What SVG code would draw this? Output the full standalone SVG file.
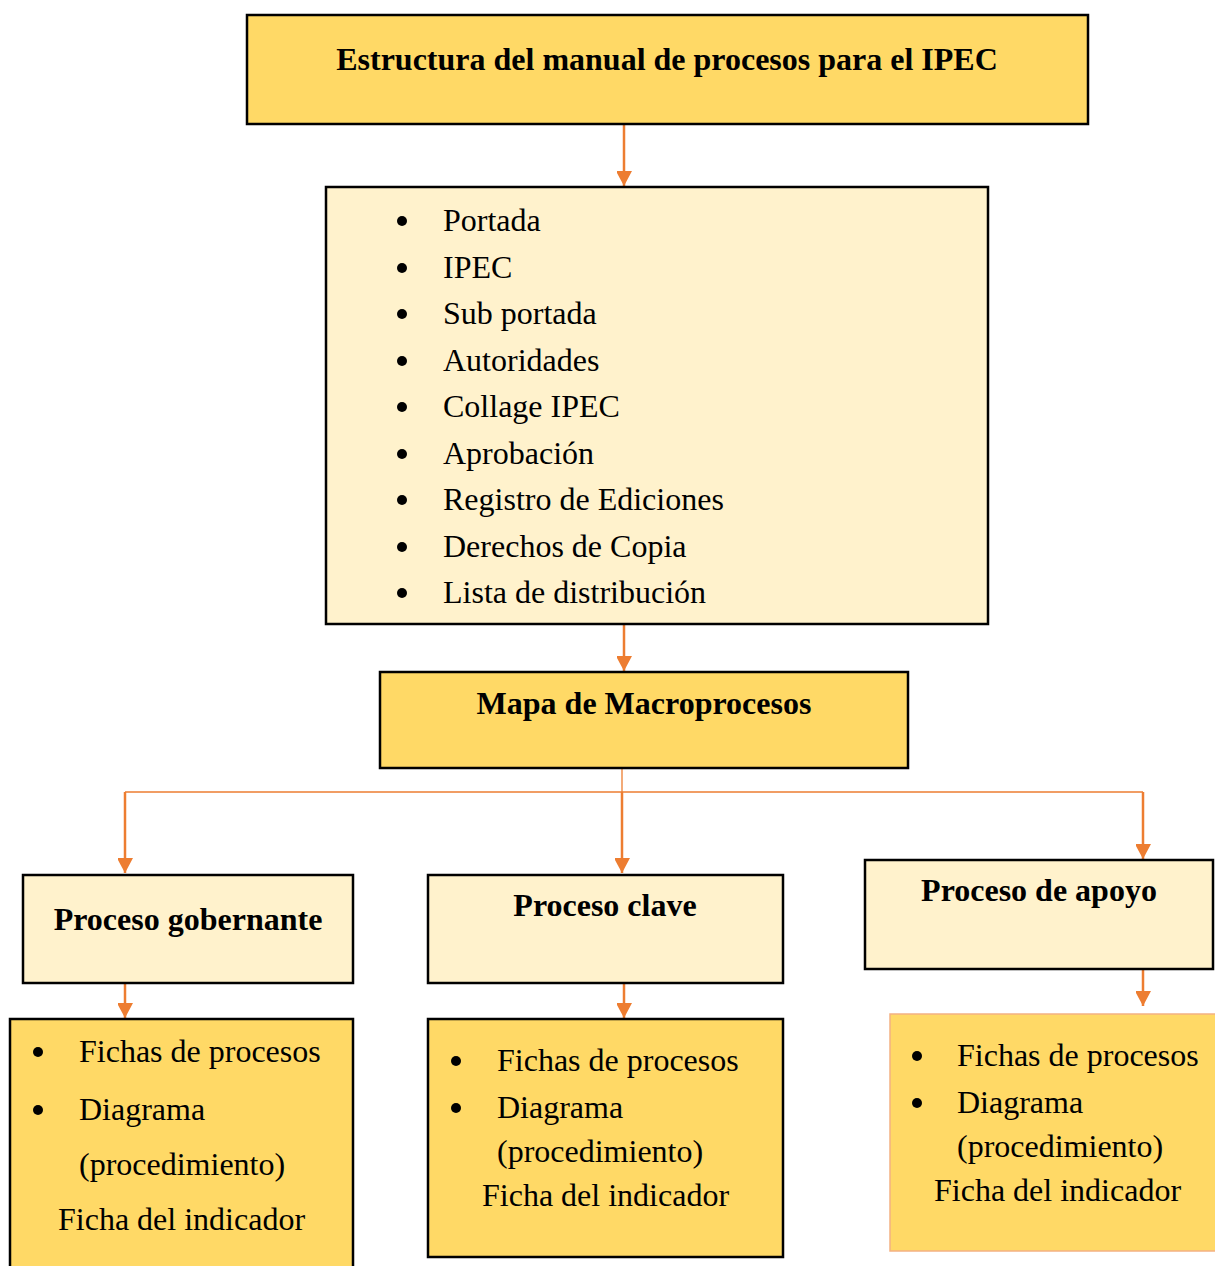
<svg xmlns="http://www.w3.org/2000/svg" width="1215" height="1266" viewBox="0 0 1215 1266">
<defs>
<style>
.gold{fill:#FFD966;stroke:#000;stroke-width:2.5}
.light{fill:#FFF2CC;stroke:#000;stroke-width:2.5}
.t{font-family:"Liberation Serif","Times New Roman",serif;font-size:32px;fill:#000}
.b{font-weight:bold}
.c{stroke:#ED7D31;stroke-width:2.5;fill:none}
.thin{stroke:#ED7D31;stroke-width:1.3;fill:none}
</style>
<marker id="ah" markerWidth="16" markerHeight="16" refX="8" refY="15" orient="auto" markerUnits="userSpaceOnUse" viewBox="0 0 16 16">
<path d="M0,0 L16,0 L8,15 Z" fill="#ED7D31" transform="rotate(-90 8 8)"/>
</marker>
<marker id="a" markerWidth="16" markerHeight="15" refX="15" refY="8" orient="auto" markerUnits="userSpaceOnUse">
<path d="M0,0 L15,8 L0,16 Z" fill="#ED7D31"/>
</marker>
</defs>
<rect width="1215" height="1266" fill="#fff"/>

<g id="connectors">
<line class="c" x1="624" y1="124" x2="624" y2="186" marker-end="url(#a)"/>
<line class="c" x1="624" y1="624" x2="624" y2="671" marker-end="url(#a)"/>
<line class="thin" x1="622" y1="768" x2="622" y2="792"/>
<polyline class="thin" points="125,792 1143,792"/>
<line class="c" x1="622" y1="792" x2="622" y2="873" marker-end="url(#a)"/>
<line class="c" x1="125" y1="792" x2="125" y2="873" marker-end="url(#a)"/>
<line class="c" x1="1143" y1="792" x2="1143" y2="859" marker-end="url(#a)"/>
<line class="c" x1="125" y1="983" x2="125" y2="1018" marker-end="url(#a)"/>
<line class="c" x1="624" y1="983" x2="624" y2="1018" marker-end="url(#a)"/>
<line class="c" x1="1143" y1="969" x2="1143" y2="1006" marker-end="url(#a)"/>
</g>

<g id="title">
<rect class="gold" x="247" y="15" width="841" height="109"/>
<text class="t b" x="667" y="70" text-anchor="middle">Estructura del manual de procesos para el IPEC</text>
</g>

<g id="contents">
<rect class="light" x="326" y="187" width="662" height="437"/>
<g class="t">
<circle cx="402" cy="221" r="5"/><text x="443" y="231">Portada</text>
<circle cx="402" cy="268" r="5"/><text x="443" y="278">IPEC</text>
<circle cx="402" cy="314" r="5"/><text x="443" y="324">Sub portada</text>
<circle cx="402" cy="361" r="5"/><text x="443" y="371">Autoridades</text>
<circle cx="402" cy="407" r="5"/><text x="443" y="417">Collage IPEC</text>
<circle cx="402" cy="454" r="5"/><text x="443" y="464">Aprobación</text>
<circle cx="402" cy="500" r="5"/><text x="443" y="510">Registro de Ediciones</text>
<circle cx="402" cy="547" r="5"/><text x="443" y="557">Derechos de Copia</text>
<circle cx="402" cy="593" r="5"/><text x="443" y="603">Lista de distribución</text>
</g>
</g>

<g id="mapa">
<rect class="gold" x="380" y="672" width="528" height="96"/>
<text class="t b" x="644" y="714" text-anchor="middle">Mapa de Macroprocesos</text>
</g>

<g id="gobernante">
<rect class="light" x="23" y="875" width="330" height="108"/>
<text class="t b" x="188" y="930" text-anchor="middle">Proceso gobernante</text>
</g>

<g id="clave">
<rect class="light" x="428" y="875" width="355" height="108"/>
<text class="t b" x="605" y="916" text-anchor="middle">Proceso clave</text>
</g>

<g id="apoyo">
<rect class="light" x="865" y="860" width="348" height="109"/>
<text class="t b" x="1039" y="901" text-anchor="middle">Proceso de apoyo</text>
</g>

<g id="gobernante-items">
<rect class="gold" x="10" y="1019" width="343" height="260"/>
<g class="t">
<circle cx="38" cy="1052" r="5"/><text x="79" y="1062">Fichas de procesos</text>
<circle cx="38" cy="1110" r="5"/><text x="79" y="1120">Diagrama</text>
<text x="79" y="1175">(procedimiento)</text>
<text x="58" y="1230">Ficha del indicador</text>
</g>
</g>

<g id="clave-items">
<rect class="gold" x="428" y="1019" width="355" height="238"/>
<g class="t">
<circle cx="456" cy="1061" r="5"/><text x="497" y="1071">Fichas de procesos</text>
<circle cx="456" cy="1108" r="5"/><text x="497" y="1118">Diagrama</text>
<text x="497" y="1162">(procedimiento)</text>
<text x="482" y="1206">Ficha del indicador</text>
</g>
</g>

<g id="apoyo-items">
<rect x="890" y="1014" width="330" height="237" fill="#FFD966" stroke="#F4B183" stroke-width="1.5"/>
<g class="t">
<circle cx="917" cy="1056" r="5"/><text x="957" y="1066">Fichas de procesos</text>
<circle cx="917" cy="1103" r="5"/><text x="957" y="1113">Diagrama</text>
<text x="957" y="1157">(procedimiento)</text>
<text x="934" y="1201">Ficha del indicador</text>
</g>
</g>
</svg>
